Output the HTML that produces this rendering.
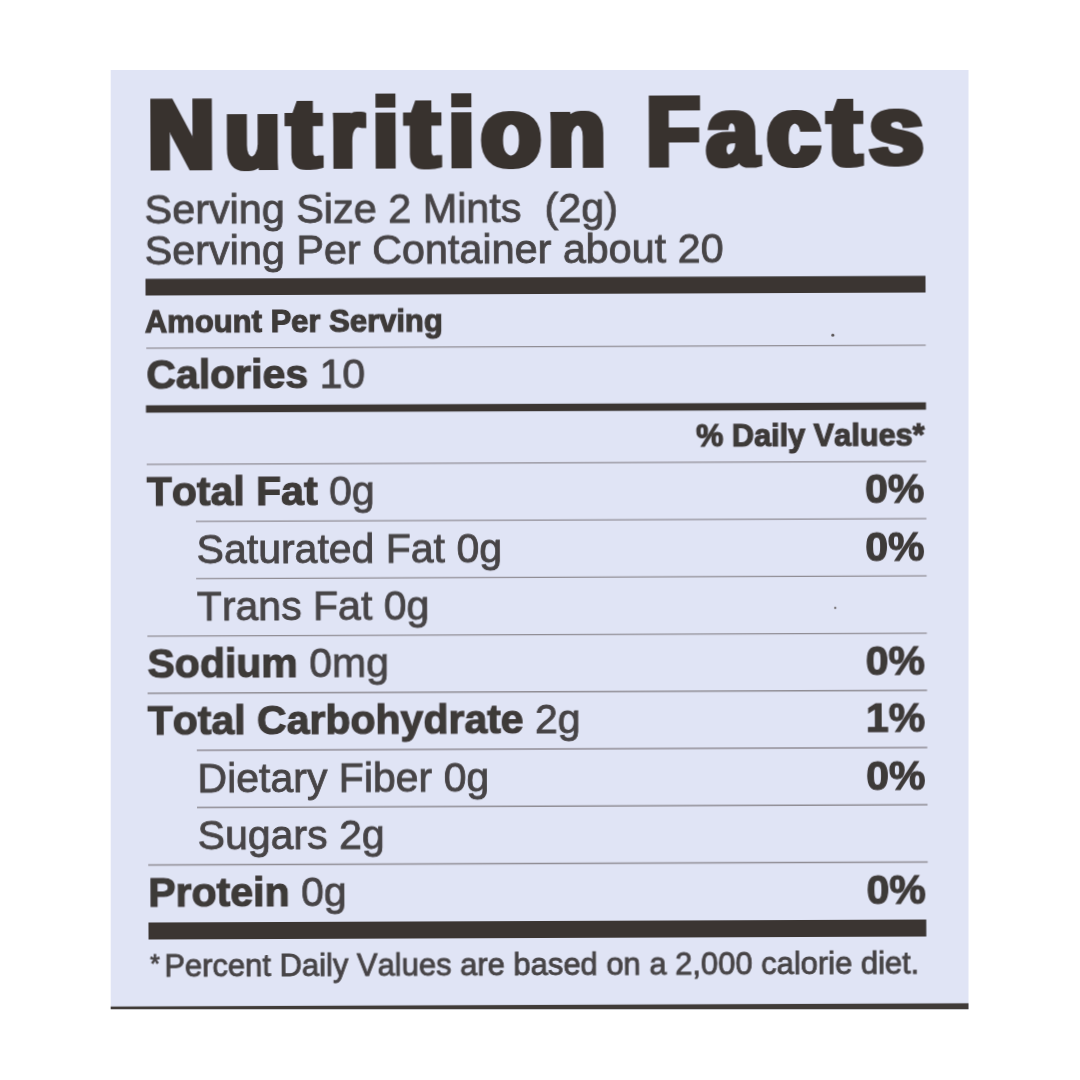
<!DOCTYPE html>
<html lang="en">
<head>
<meta charset="utf-8">
<title>Nutrition Facts</title>
<style>
  html, body { margin: 0; padding: 0; background: #ffffff; }
  body { width: 1080px; height: 1080px; overflow: hidden; position: relative; }
  svg { position: absolute; left: 0; top: 0; display: block; }
  text { font-family: "Liberation Sans", Arial, Helvetica, sans-serif; fill: #3e3a39; font-kerning: none; }
  .b { font-weight: 700; fill: #3e3a39; stroke: #3e3a39; stroke-width: 1.15px; }
  .r { font-weight: 400; fill: #474446; stroke: #474446; stroke-width: 0.85px; }
  .title { font-weight: 700; fill: #38322f; stroke: #38322f; stroke-width: 4.0px; stroke-linejoin: miter; }
  .thin { stroke: #908d94; stroke-width: 1.4; }
  .bar { fill: #3a3533; }
</style>
</head>
<body>
<svg width="1080" height="1080" viewBox="0 0 1080 1080">
  <defs>
    <clipPath id="panel"><rect x="110.7" y="70" width="857.8" height="939.3"/></clipPath>
    <filter id="heavy" x="-2%" y="-10%" width="104%" height="120%"><feMorphology operator="dilate" radius="2 0"/></filter>
    <filter id="soft" x="-2%" y="-2%" width="104%" height="104%"><feGaussianBlur stdDeviation="0.6"/></filter>
  </defs>
  <rect x="110.7" y="70" width="857.8" height="939.3" fill="#e0e4f5"/>
  <g clip-path="url(#panel)">
   <g transform="rotate(-0.22 540 540)" filter="url(#soft)">
    <rect x="80" y="1004.9" width="920" height="12" fill="#3f3a38"/>

    <text class="title" filter="url(#heavy)" font-size="98.1"><tspan x="149.8" y="166.7" textLength="66.1" lengthAdjust="spacingAndGlyphs">N</tspan><tspan x="226.8" y="166.6" textLength="54.9" lengthAdjust="spacingAndGlyphs">u</tspan><tspan x="288.9" y="166.5" textLength="33.3" lengthAdjust="spacingAndGlyphs">t</tspan><tspan x="332.8" y="166.4" textLength="32.7" lengthAdjust="spacingAndGlyphs">r</tspan><tspan x="374.7" y="166.3" textLength="24.9" lengthAdjust="spacingAndGlyphs">i</tspan><tspan x="407.4" y="166.3" textLength="33.3" lengthAdjust="spacingAndGlyphs">t</tspan><tspan x="450.5" y="166.2" textLength="25.1" lengthAdjust="spacingAndGlyphs">i</tspan><tspan x="482.8" y="166.2" textLength="59.6" lengthAdjust="spacingAndGlyphs">o</tspan><tspan x="549.8" y="166.1" textLength="57.0" lengthAdjust="spacingAndGlyphs">n</tspan> <tspan x="648.5" y="165.9" textLength="52.6" lengthAdjust="spacingAndGlyphs">F</tspan><tspan x="708.5" y="165.8" textLength="50.7" lengthAdjust="spacingAndGlyphs">a</tspan><tspan x="768.8" y="165.7" textLength="53.0" lengthAdjust="spacingAndGlyphs">c</tspan><tspan x="829.5" y="165.6" textLength="33.2" lengthAdjust="spacingAndGlyphs">t</tspan><tspan x="871.1" y="165.5" textLength="53.8" lengthAdjust="spacingAndGlyphs">s</tspan></text>

    <text class="r" x="145.8" y="221.6" font-size="41.36" xml:space="preserve">Serving Size 2 Mints  (2g)</text>
    <text class="r" x="145.8" y="263.2" font-size="41.33">Serving Per Container about 20</text>

    <rect class="bar" x="146.5" y="277.3" width="780" height="16.7"/>

    <text class="b" x="145.7" y="331.5" font-size="31">Amount Per Serving</text>
    <line class="thin" x1="147" x2="926.5" y1="346.6" y2="346.6"/>

    <text x="147.0" y="387.4" font-size="41"><tspan class="b">Calories</tspan><tspan class="r"> 10</tspan></text>

    <rect class="bar" x="146.5" y="403.8" width="780" height="7.4"/>

    <text class="b" x="925.0" y="447.2" font-size="30.7" text-anchor="end">% Daily Values*</text>

    <line class="thin" x1="147" x2="926.5" y1="462.9" y2="462.9"/>
    <text x="147.0" y="504.5" font-size="41"><tspan class="b">Total Fat</tspan><tspan class="r"> 0g</tspan></text>
    <text class="b" x="924.5" y="504.5" font-size="41" text-anchor="end">0%</text>
    <line class="thin" x1="196" x2="926.5" y1="520.1" y2="520.1"/>
    <text class="r" x="196.6" y="561.7" font-size="41">Saturated Fat 0g</text>
    <text class="b" x="924.5" y="561.7" font-size="41" text-anchor="end">0%</text>
    <line class="thin" x1="196" x2="926.5" y1="577.4" y2="577.4"/>
    <text class="r" x="196.6" y="619.0" font-size="41">Trans Fat 0g</text>
    <line class="thin" x1="147" x2="926.5" y1="634.6" y2="634.6"/>
    <text x="147.0" y="676.2" font-size="41"><tspan class="b">Sodium</tspan><tspan class="r"> 0mg</tspan></text>
    <text class="b" x="924.5" y="676.2" font-size="41" text-anchor="end">0%</text>
    <line class="thin" x1="147" x2="926.5" y1="691.8" y2="691.8"/>
    <text x="147.0" y="733.4" font-size="41"><tspan class="b">Total Carbohydrate</tspan><tspan class="r"> 2g</tspan></text>
    <text class="b" x="924.5" y="733.4" font-size="41" text-anchor="end">1%</text>
    <line class="thin" x1="196" x2="926.5" y1="749.0" y2="749.0"/>
    <text class="r" x="196.6" y="790.6" font-size="41">Dietary Fiber 0g</text>
    <text class="b" x="924.5" y="790.6" font-size="41" text-anchor="end">0%</text>
    <line class="thin" x1="196" x2="926.5" y1="806.3" y2="806.3"/>
    <text class="r" x="196.6" y="847.9" font-size="41">Sugars 2g</text>
    <line class="thin" x1="147" x2="926.5" y1="863.5" y2="863.5"/>
    <text x="147.0" y="905.1" font-size="41"><tspan class="b">Protein</tspan><tspan class="r"> 0g</tspan></text>
    <text class="b" x="924.5" y="905.1" font-size="41" text-anchor="end">0%</text>

    <rect class="bar" x="147" y="921" width="777.8" height="17"/>
    <circle cx="833.6" cy="336.2" r="1.5" fill="#55504f"/>
    <circle cx="835" cy="609" r="1.2" fill="#7a7678"/>

    <text class="r" font-size="31"><tspan x="148.6" y="970.6" font-size="25">*</tspan><tspan x="162.7" y="975.4" textLength="755" lengthAdjust="spacingAndGlyphs">Percent Daily Values are based on a 2,000 calorie diet.</tspan></text>
   </g>
  </g>
</svg>
</body>
</html>
